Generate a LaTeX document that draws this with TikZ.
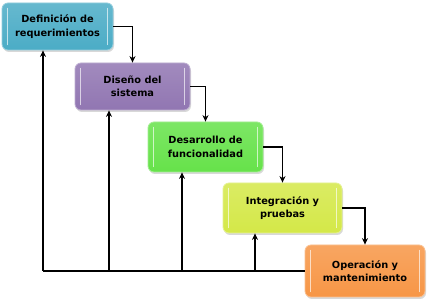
\documentclass[tikz,border=0pt]{standalone}
\usepackage{fontspec}
\setmainfont{DejaVu Sans}
\usetikzlibrary{arrows.meta,shadows}
\definecolor{cA}{RGB}{75,172,198}
\definecolor{cB}{RGB}{145,118,178}
\definecolor{cC}{RGB}{102,226,74}
\definecolor{cD}{RGB}{212,232,72}
\definecolor{cE}{RGB}{247,150,70}
\tikzset{
  phase/.style={rounded corners=6pt, draw=#1!60!white, line width=0.8pt,
    top color=#1!85!white, bottom color=#1,
    align=center, font=\fontsize{9.8}{13.5}\selectfont\bfseries, text=black,
    inner sep=0pt,
    drop shadow={shadow xshift=1pt, shadow yshift=-2pt, opacity=0.25, fill=black!60}},
  shine/.style={draw=white, line width=1.6pt, line cap=round, draw opacity=0.65},
  flow/.style={line width=1.1pt, -{Stealth[length=6.5pt,width=6pt]}},
  fb/.style={line width=1.1pt}
}
\begin{document}
\begin{tikzpicture}[x=1pt,y=-1pt]
\useasboundingbox (0,0) rectangle (429,302);
\fill[white] (0,0) rectangle (429,302);

\node[phase=cA, minimum width=111pt, minimum height=47pt] (b1) at (57.5,26.5) {Definición de\\requerimientos};
\node[phase=cB, minimum width=115pt, minimum height=47pt] (b2) at (132.5,86.5) {Diseño del\\sistema};
\node[phase=cC, minimum width=115pt, minimum height=50pt] (b3) at (205.5,147) {Desarrollo de\\funcionalidad};
\node[phase=cD, minimum width=119pt, minimum height=50pt] (b4) at (282.5,208) {Integración y\\pruebas};
\node[phase=cE, minimum width=120pt, minimum height=52pt] (b5) at (365,271) {Operación y\\mantenimiento};

% glossy highlight strips along the inner left and right edges
\foreach \n in {b1,b2,b3,b4,b5} {
  \draw[shine] ([xshift=6pt,yshift=-6pt]\n.north west) -- ([xshift=6pt,yshift=6pt]\n.south west);
  \draw[shine] ([xshift=-6pt,yshift=-6pt]\n.north east) -- ([xshift=-6pt,yshift=6pt]\n.south east);
}

% forward flow between phases
\draw[flow] (b1.east) -| (b2.north);
\draw[flow] (b2.east) -| (b3.north);
\draw[flow] (b3.east) -| (b4.north);
\draw[flow] (b4.east) -| (b5.north);

% feedback paths back to earlier phases
\coordinate (f1) at (43,271);
\coordinate (f2) at (109,271);
\coordinate (f3) at (182,271);
\coordinate (f4) at (255,271);
\draw[fb] (b5.west) -- (f1);
\draw[flow] (f1) -- (f1 |- b1.south);
\draw[flow] (f2) -- (f2 |- b2.south);
\draw[flow] (f3) -- (f3 |- b3.south);
\draw[flow] (f4) -- (f4 |- b4.south);
\end{tikzpicture}
\end{document}
